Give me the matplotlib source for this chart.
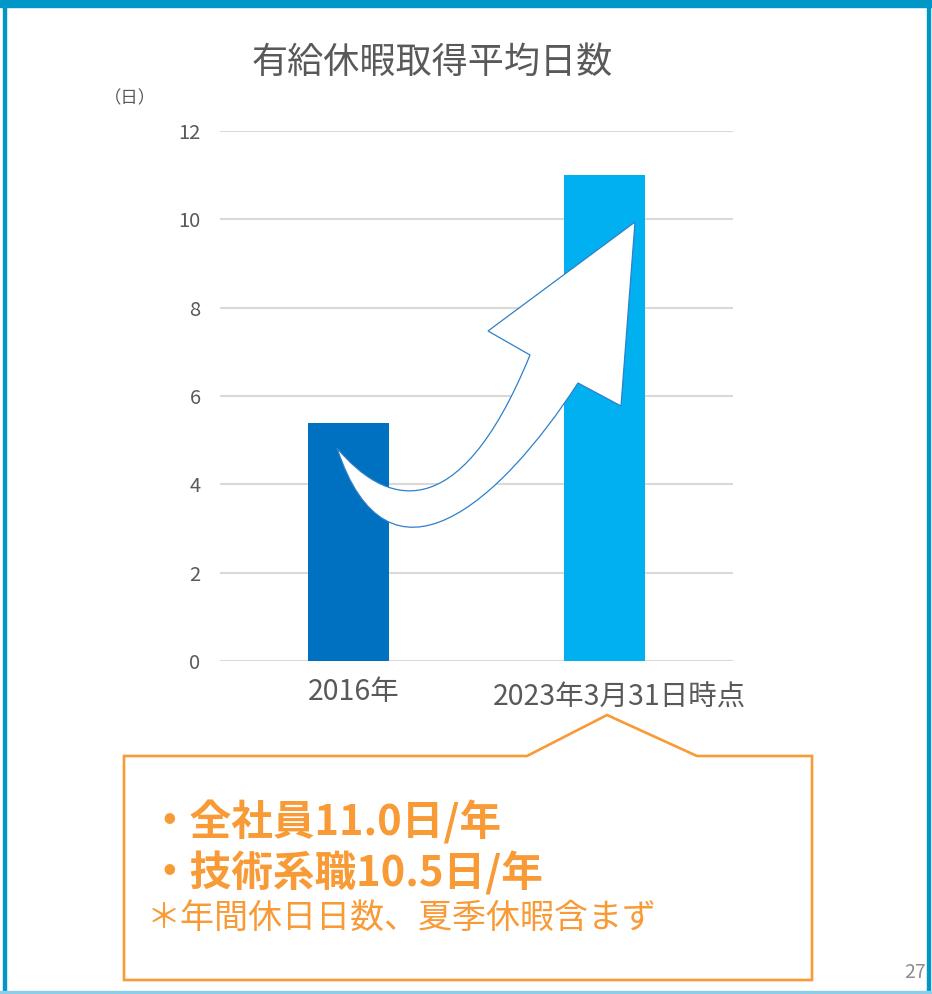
import matplotlib
matplotlib.use('Agg')
import matplotlib.pyplot as plt
from matplotlib.patches import Rectangle, PathPatch, Polygon
from matplotlib.path import Path
import matplotlib.transforms as mtransforms

plt.rcParams['font.family'] = ['Noto Sans CJK JP', 'DejaVu Sans']

#-------------------------------------------------------------------------------
#DATA

title = '有給休暇取得平均日数'
unit = '（日）'
categories = ['2016年', '2023年3月31日時点']
days = [5.4, 11.0]
bar_colors = ['#0070c0', '#00b0f0']
yticks = [0, 2, 4, 6, 8, 10, 12]
notes = ['・全社員11.0日/年', '・技術系職10.5日/年']
footnote = '＊年間休日日数、夏季休暇含まず'
page = '27'

gray = '#595959'
orange = '#f89a36'
frame_blue = '#0096c8'

W, H = 932, 994

#pixel -> figure fraction
def fx(x):
    return x/W

def fy(y):
    return 1 - y/H

#-------------------------------------------------------------------------------
#MAIN

fig = plt.figure(figsize=(W/100, H/100), dpi=100)
ax = fig.add_axes([fx(220), fy(661), fx(733) - fx(220), fy(131) - fy(661)])

xpos = list(range(len(categories)))
ax.bar(xpos, days, width=0.316, color=bar_colors, zorder=2)
ax.set_xlim(-0.5, 1.5)
ax.set_ylim(0, 12)
ax.set_yticks(yticks)
ax.set_xticks([])
ax.yaxis.grid(True, color='#d9d9d9', lw=1.5, zorder=0)
ax.set_axisbelow(True)
for s in ax.spines.values():
    s.set_visible(False)
ax.tick_params(axis='y', length=0, pad=14, labelsize=14.5, labelcolor=gray)

#category labels (second one sits a bit right and lower in the original)
offsets = [(5, 0), (15, -6)]
for x, lab, (dx, dy) in zip(xpos, categories, offsets):
    tr = mtransforms.offset_copy(ax.get_xaxis_transform(), fig=fig,
                                 x=dx, y=dy, units='dots')
    ax.text(x, -0.058, lab, transform=tr, ha='center', va='center',
            fontsize=20.5, color=gray)

fig.text(fx(432), fy(63), title, ha='center', va='center', fontsize=26, color=gray)
fig.text(fx(130), fy(98), unit, ha='center', va='center', fontsize=12.5, color=gray)

#curved arrow (decoration), pixel outline
pts = [(337, 448), (383, 503), (457, 534), (530, 355),
       (488, 331), (635, 222), (621, 406), (578, 383),
       (500, 503), (388, 603), (337, 448), (337, 448)]
codes = [Path.MOVETO, Path.CURVE4, Path.CURVE4, Path.CURVE4,
         Path.LINETO, Path.LINETO, Path.LINETO, Path.LINETO,
         Path.CURVE4, Path.CURVE4, Path.CURVE4, Path.CLOSEPOLY]
arrow = Path([(fx(x), fy(y)) for x, y in pts], codes)
fig.add_artist(PathPatch(arrow, facecolor='white', edgecolor='#2e80c8', lw=0.9,
                         transform=fig.transFigure, zorder=3))

#callout box
box = [(124, 756), (527, 756), (607, 715), (697, 756), (812, 756),
       (812, 980), (124, 980)]
fig.add_artist(Polygon([(fx(x), fy(y)) for x, y in box], closed=True,
                       facecolor='none', edgecolor=orange, lw=1.9,
                       transform=fig.transFigure, zorder=3))
fig.text(fx(148), fy(822), notes[0], ha='left', va='center', fontsize=30,
         fontweight='bold', color=orange)
fig.text(fx(148), fy(873), notes[1], ha='left', va='center', fontsize=30,
         fontweight='bold', color=orange)
fig.text(fx(147), fy(918), footnote, ha='left', va='center', fontsize=24.5,
         color=orange)

#page frame
fig.add_artist(Rectangle((0, fy(7)), 1, fy(0) - fy(7), color=frame_blue,
                         transform=fig.transFigure, zorder=4))
fig.add_artist(Rectangle((fx(3), 0), fx(3), 1, color=frame_blue,
                         transform=fig.transFigure, zorder=4))
fig.add_artist(Rectangle((fx(927), 0), fx(3), 1, color=frame_blue,
                         transform=fig.transFigure, zorder=4))
fig.add_artist(Rectangle((0, fy(994)), 1, fy(991) - fy(994), color='#8ccde8',
                         transform=fig.transFigure, zorder=4))
fig.text(fx(904), fy(973), page, ha='left', va='center', fontsize=14, color='#8c8c8c')

fig.savefig('out.png', dpi=100)
